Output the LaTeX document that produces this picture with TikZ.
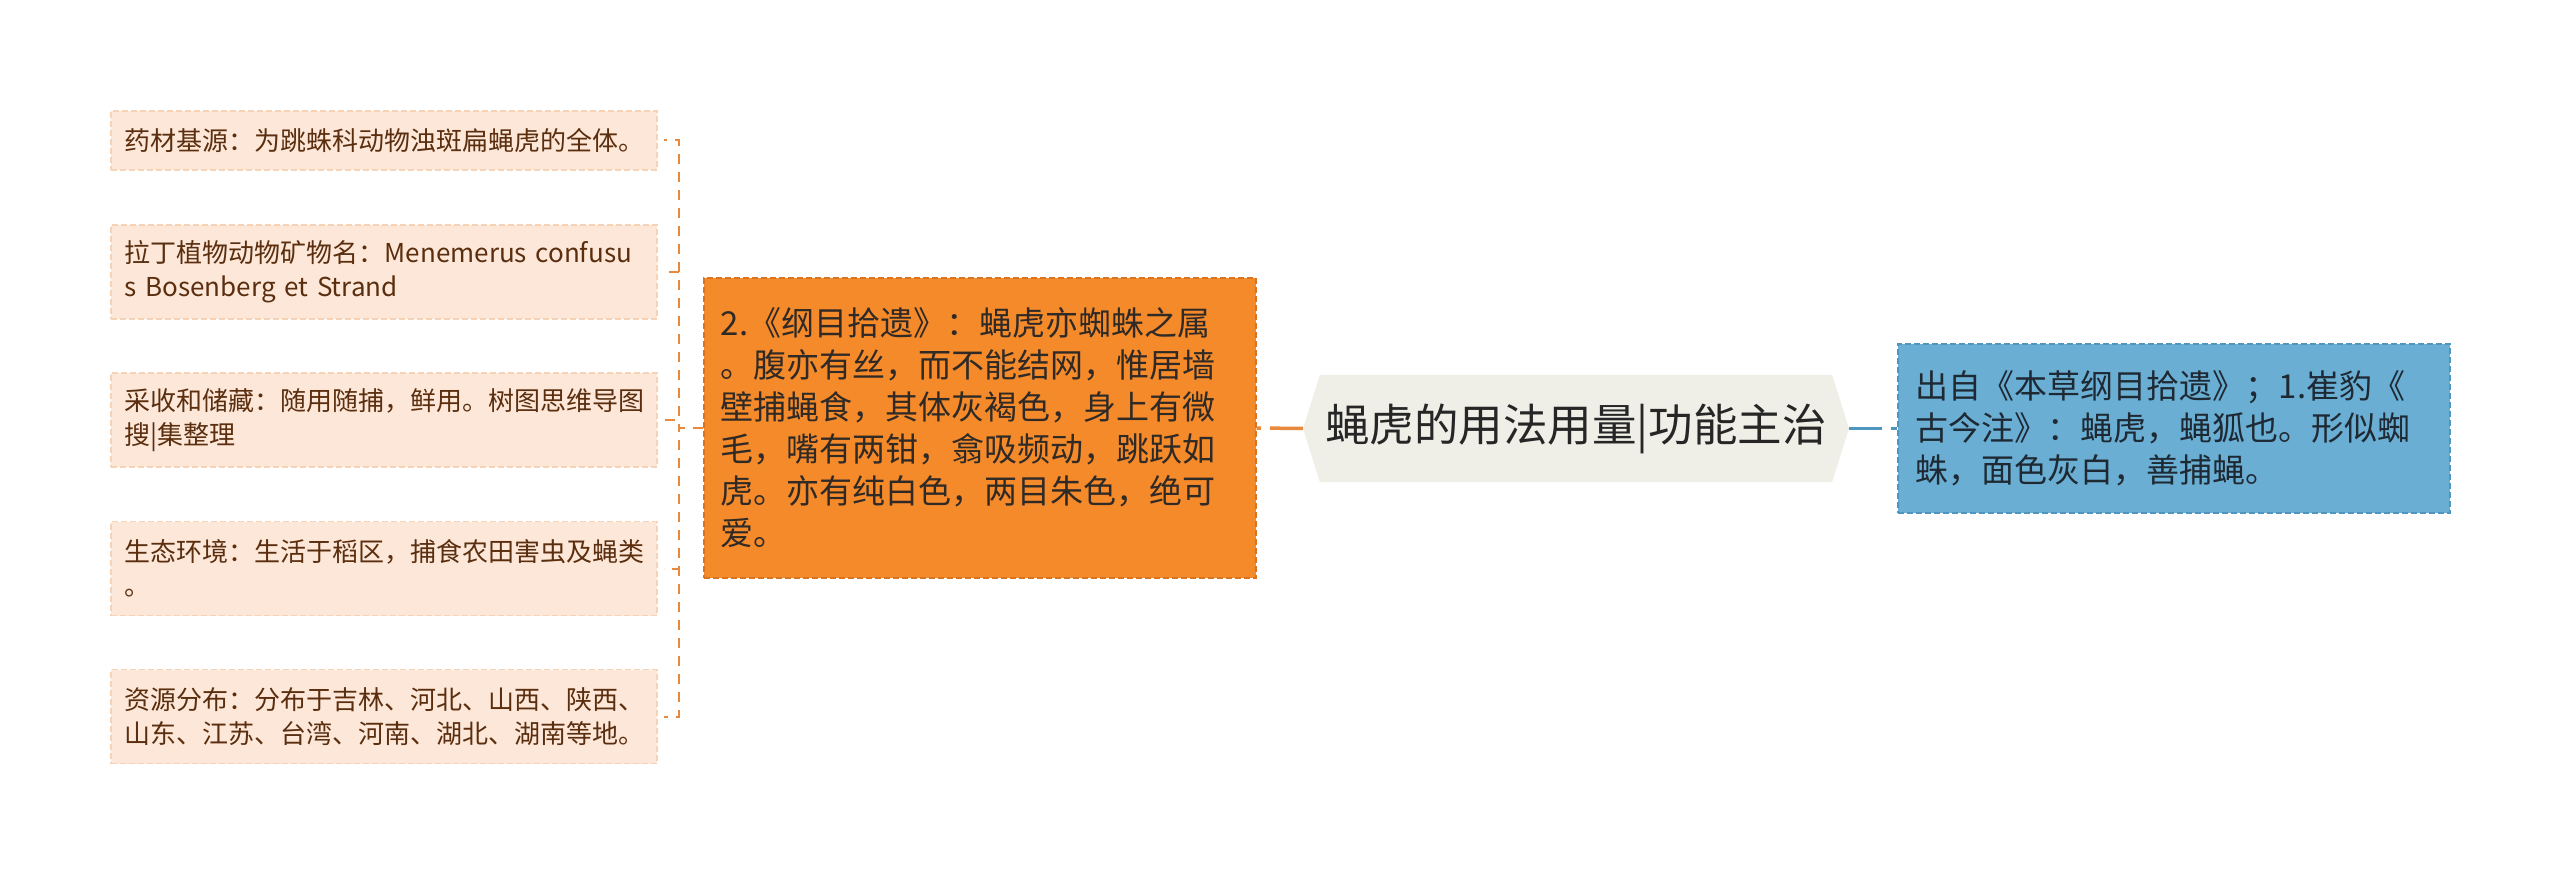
\documentclass[tikz,border=0pt]{standalone}
\usepackage{fontspec}
\newfontfamily\cjk{Noto Sans CJK SC}
\usetikzlibrary{shapes.symbols}
\definecolor{leaffill}{HTML}{FDE7D8}
\definecolor{leafline}{HTML}{F6D2B6}
\definecolor{leaftext}{HTML}{5A2E0E}
\definecolor{orangefill}{HTML}{F58A2B}
\definecolor{orangeline}{HTML}{DB7420}
\definecolor{connorange}{HTML}{E8893D}
\definecolor{centerfill}{HTML}{EFEFE7}
\definecolor{bluefill}{HTML}{6AAED3}
\definecolor{blueline}{HTML}{4E95BF}
\definecolor{bluetext}{HTML}{1E2933}
\definecolor{darktext}{HTML}{2F2A26}
\tikzset{
  boxdash/.style={dash pattern=on 6pt off 3pt},
  leaf/.style={draw=leafline, boxdash, line width=1.5pt, fill=leaffill, text=leaftext,
    font=\cjk\fontsize{26}{34}\selectfont, align=left, text width=518pt,
    inner xsep=14pt, inner ysep=0pt, anchor=west},
  midbox/.style={draw=orangeline, boxdash, line width=1.5pt, fill=orangefill, text=darktext,
    font=\cjk\fontsize{33}{42}\selectfont, align=left, text width=518pt,
    inner xsep=17pt, inner ysep=0pt, minimum height=300pt, anchor=west},
  bluebox/.style={draw=blueline, boxdash, line width=1.5pt, fill=bluefill, text=bluetext,
    font=\cjk\fontsize{33}{42}\selectfont, align=left, text width=516pt,
    inner xsep=18pt, inner ysep=0pt, minimum height=169pt, anchor=west},
  centernode/.style={shape=signal, signal to=west and east, signal pointer angle=145,
    fill=centerfill, text=black!85, font=\cjk\fontsize{44.5}{52}\selectfont,
    minimum width=546pt, minimum height=107pt, inner sep=0pt},
  leafconn/.style={draw=connorange, line width=2pt, dash pattern=on 10pt off 8pt, shorten >=6pt},
  mainconn/.style={line width=3.5pt, dash pattern=on 33pt off 9pt},
}
\begin{document}
\begin{tikzpicture}[x=1pt,y=-1pt]
\useasboundingbox[fill=white] (0,0) rectangle (2560,874);
\node[leaf, minimum height=59pt] (l1) at (110,140.5) {药材基源：为跳蛛科动物浊斑扁蝇虎的全体。};
\node[leaf, minimum height=94pt] (l2) at (110,272) {拉丁植物动物矿物名：Menemerus confusu\\s Bosenberg et Strand};
\node[leaf, minimum height=94pt] (l3) at (110,420) {采收和储藏：随用随捕，鲜用。树图思维导图\\搜|集整理};
\node[leaf, minimum height=94pt] (l4) at (110,568.5) {生态环境：生活于稻区，捕食农田害虫及蝇类\\。};
\node[leaf, minimum height=94pt] (l5) at (110,716.5) {资源分布：分布于吉林、河北、山西、陕西、\\山东、江苏、台湾、河南、湖北、湖南等地。};
\node[midbox] (mid) at (703,428) {2.《纲目拾遗》：蝇虎亦蜘蛛之属\\。腹亦有丝，而不能结网，惟居墙\\壁捕蝇食，其体灰褐色，身上有微\\毛，嘴有两钳，翕吸频动，跳跃如\\虎。亦有纯白色，两目朱色，绝可\\爱。};
\node[centernode] (c) at (1576,428.5) {蝇虎的用法用量|功能主治};
\node[bluebox] (b) at (1897,428.5) {出自《本草纲目拾遗》；1.崔豹《\\古今注》：蝇虎，蝇狐也。形似蜘\\蛛，面色灰白，善捕蝇。};
\foreach \l in {l1,l2,l3,l4,l5}
  \draw[leafconn] (mid.west) -- ++(-24pt,0) |- (\l.east);
\draw[mainconn, draw=connorange] (c.west) -- (mid.east);
\draw[mainconn, draw=blueline] (c.east) -- (b.west);
\end{tikzpicture}
\end{document}
